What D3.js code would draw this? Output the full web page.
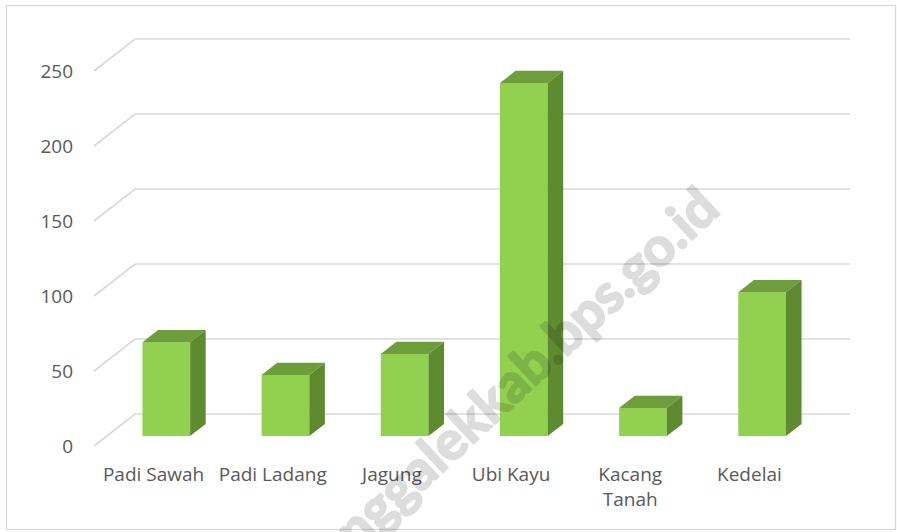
<!DOCTYPE html>
<html>
<head>
<meta charset="utf-8">
<script src="https://cdn.jsdelivr.net/npm/d3@7"></script>
<style>
  body { margin: 0; background: #fff; }
  svg { display: block; font-family: "Open Sans", sans-serif; }
</style>
</head>
<body>
<svg width="897" height="532"></svg>
<script>
var categories = ["Padi Sawah", "Padi Ladang", "Jagung", "Ubi Kayu", "Kacang Tanah", "Kedelai"];
var values = [62.6, 40.8, 54.8, 235.4, 18.7, 95.9];
var yTicks = [0, 50, 100, 150, 200, 250];

var svgWidth = 897, svgHeight = 532;
// depth of the 3d box, back wall -> front edge
var depthX = -41, depthY = 32;
// bar sits between these depth fractions (0 = front, 1 = back)
var barFront = 0.31, barBack = 0.69;

var svg = d3.select("svg");

// chart frame
svg.append("rect")
    .attr("x", 6.5).attr("y", 5.5)
    .attr("width", 889).attr("height", 524)
    .attr("fill", "none")
    .attr("stroke", "#d9d9d9")
    .attr("stroke-width", 1.3);

// scales on the back wall
var x = d3.scaleBand()
    .domain(categories)
    .range([135, 850])
    .paddingInner(0.6)
    .paddingOuter(0.3);

var y = d3.scaleLinear()
    .domain([0, 250])
    .range([414, 39]);

function off(t) { return [depthX * (1 - t), depthY * (1 - t)]; }

// gridlines: back wall + slanted side wall line
var grid = svg.append("g");
yTicks.forEach(function(v) {
    var yy = y(v);
    grid.append("path")
        .attr("d", "M" + (135 + depthX) + "," + (yy + depthY) + "L135," + yy + "L850," + yy)
        .attr("fill", "none")
        .attr("stroke", "#d9d9d9")
        .attr("stroke-width", 1.6);
});

// y labels at the front end of the gridlines
svg.append("g").selectAll("text")
    .data(yTicks)
    .enter()
    .append("text")
    .attr("x", 73)
    .attr("y", function(d) { return y(d) + depthY; })
    .attr("dy", "0.35em")
    .attr("text-anchor", "end")
    .attr("font-size", 19)
    .attr("fill", "#595959")
    .text(function(d) { return d; });

// bars
var o1 = off(barFront), o2 = off(barBack);
var bars = svg.append("g").selectAll("g")
    .data(categories.map(function(c, i) { return { cat: c, val: values[i] }; }))
    .enter()
    .append("g");

bars.each(function(d) {
    var g = d3.select(this);
    var x0 = x(d.cat) + o1[0], x1 = x0 + x.bandwidth();
    var yT = y(d.val) + o1[1], yB = y(0) + o1[1];
    var ddx = o2[0] - o1[0], ddy = o2[1] - o1[1];
    // front
    g.append("rect")
        .attr("x", x0).attr("y", yT)
        .attr("width", x1 - x0).attr("height", yB - yT)
        .attr("fill", "#92d050");
    // top
    g.append("path")
        .attr("d", "M" + x0 + "," + yT + "L" + (x0 + ddx) + "," + (yT + ddy) +
            "L" + (x1 + ddx) + "," + (yT + ddy) + "L" + x1 + "," + yT + "Z")
        .attr("fill", "#6e9d3b");
    // side
    g.append("path")
        .attr("d", "M" + x1 + "," + yT + "L" + (x1 + ddx) + "," + (yT + ddy) +
            "L" + (x1 + ddx) + "," + (yB + ddy) + "L" + x1 + "," + yB + "Z")
        .attr("fill", "#5e8a30");
});

// category labels on the front plane
var labels = svg.append("g").selectAll("text")
    .data(categories)
    .enter()
    .append("text")
    .attr("text-anchor", "middle")
    .attr("font-size", 19)
    .attr("fill", "#595959");

labels.each(function(d) {
    var cx = x(d) + x.bandwidth() / 2 + depthX;
    var words = d == "Kacang Tanah" ? ["Kacang", "Tanah"] : [d];
    var t = d3.select(this);
    words.forEach(function(w, i) {
        t.append("tspan")
            .attr("x", cx)
            .attr("y", 481 + i * 25)
            .text(w);
    });
});

// watermark
svg.append("text")
    .attr("transform", "translate(722,212) rotate(-43)")
    .attr("text-anchor", "end")
    .attr("font-family", "Lato, sans-serif")
    .attr("font-weight", "bold")
    .attr("font-size", 54)
    .attr("fill", "#000")
    .attr("stroke", "#000")
    .attr("stroke-width", 2.2)
    .attr("stroke-linejoin", "round")
    .attr("opacity", 0.13)
    .text("trenggalekkab.bps.go.id");
</script>
</body>
</html>
